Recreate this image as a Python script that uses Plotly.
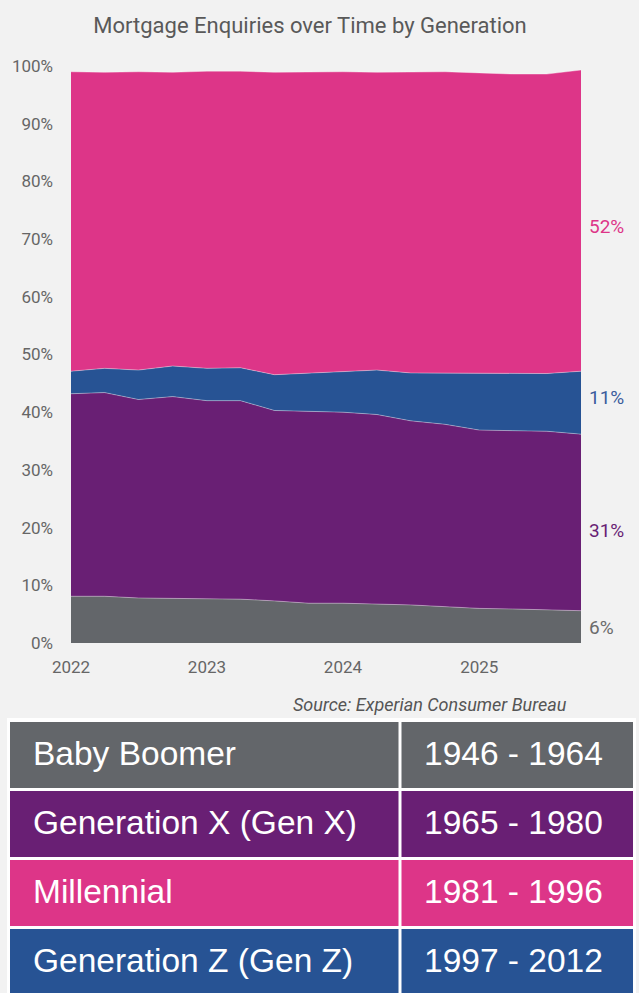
import plotly.graph_objects as go

# quarterly mortgage enquiry share by generation (% of enquiries)
quarters = ["2022-01-01", "2022-04-01", "2022-07-01", "2022-10-01",
            "2023-01-01", "2023-04-01", "2023-07-01", "2023-10-01",
            "2024-01-01", "2024-04-01", "2024-07-01", "2024-10-01",
            "2025-01-01", "2025-04-01", "2025-07-01", "2025-10-01"]

baby_boomer = [8.1, 8.1, 7.8, 7.7, 7.7, 7.6, 7.3, 6.9, 6.9, 6.8, 6.6, 6.3, 6.0, 5.9, 5.8, 5.6]
gen_x = [35.1, 35.3, 34.4, 35.0, 34.3, 34.4, 33.0, 33.3, 33.1, 32.8, 31.9, 31.6, 30.9, 30.9, 30.9, 30.6]
gen_z = [3.9, 4.2, 5.1, 5.3, 5.6, 5.7, 6.2, 6.6, 7.1, 7.7, 8.3, 8.9, 9.8, 10.0, 10.0, 10.9]
millennial = [51.9, 51.3, 51.7, 50.9, 51.5, 51.4, 52.4, 52.2, 51.9, 51.6, 52.2, 52.2, 52.1, 51.8, 51.9, 52.2]

end_labels = ["6%", "31%", "11%", "52%"]

# generation table
gen_names = ["Baby Boomer", "Generation X (Gen X)", "Millennial", "Generation Z (Gen Z)"]
gen_years = ["1946 - 1964", "1965 - 1980", "1981 - 1996", "1997 - 2012"]

GREY = "#63666a"
PURPLE = "#691f74"
PINK = "#dd3588"
BLUE = "#275394"
BG = "#f2f2f2"

W, H = 639, 993

def px_x(p):
    return p / W

def px_y(p):
    return 1 - p / H

fig = go.Figure()

series = [("Baby Boomer", baby_boomer, GREY),
          ("Generation X", gen_x, PURPLE),
          ("Generation Z", gen_z, BLUE),
          ("Millennial", millennial, PINK)]

for name, vals, col in series:
    fig.add_trace(go.Scatter(
        x=quarters, y=vals, name=name, mode="lines",
        stackgroup="one", fillcolor=col,
        line=dict(width=1, color="rgba(255,255,255,0.35)"),
        showlegend=False, hoverinfo="x+y+name"))

# right-hand labels next to the last quarter
label_cols = ["#6b6b6b", PURPLE, "#3a5c9c", PINK]
label_y = [627, 530, 397, 226]
for txt, col, yy in zip(end_labels, label_cols, label_y):
    fig.add_annotation(text=txt, xref="paper", yref="paper",
                       x=px_x(587), y=px_y(yy), xanchor="left", yanchor="middle",
                       showarrow=False, font=dict(size=19, color=col, family="Roboto"))

fig.add_annotation(text="<i>Source: Experian Consumer Bureau</i>", xref="paper", yref="paper",
                   x=px_x(569), y=px_y(704), xanchor="right", yanchor="middle",
                   showarrow=False, font=dict(size=18, color="#555555", family="Roboto"))

# white panel behind the table
fig.add_shape(type="rect", xref="paper", yref="paper",
              x0=px_x(7), x1=px_x(636), y0=0, y1=px_y(718),
              fillcolor="white", line_width=0, layer="below")

# table cells: two columns, four rows
row_fills = [GREY, PURPLE, PINK, BLUE]
col_edges = [(10, 398.5), (401.5, 633)]
row_top, row_h, row_gap = 722, 66, 3
for i, (nm, yrs, fill) in enumerate(zip(gen_names, gen_years, row_fills)):
    y0 = row_top + i * (row_h + row_gap)
    y1 = y0 + row_h
    for (cx0, cx1) in col_edges:
        fig.add_shape(type="rect", xref="paper", yref="paper",
                      x0=px_x(cx0), x1=px_x(cx1), y0=px_y(y1), y1=px_y(y0),
                      fillcolor=fill, line_width=0, layer="below")
    ymid = px_y((y0 + y1) / 2 - 2)
    fig.add_annotation(text=nm, xref="paper", yref="paper",
                       x=px_x(col_edges[0][0] + 21), y=ymid,
                       xanchor="left", yanchor="middle", showarrow=False,
                       font=dict(size=33.5, color="white", family="Liberation Sans"))
    fig.add_annotation(text=yrs, xref="paper", yref="paper",
                       x=px_x(sum(col_edges[1]) / 2 - 4), y=ymid,
                       xanchor="center", yanchor="middle", showarrow=False,
                       font=dict(size=33.5, color="white", family="Liberation Sans"))

fig.update_layout(
    width=W, height=H,
    template="none",
    paper_bgcolor=BG, plot_bgcolor=BG,
    margin=dict(l=0, r=0, t=0, b=0),
    title=dict(text="Mortgage Enquiries over Time by Generation",
               x=px_x(310), y=px_y(25), xanchor="center", yanchor="middle",
               font=dict(size=22, color="#595959", family="Roboto")),
    xaxis=dict(domain=[px_x(71), px_x(581)],
               range=["2022-01-01", "2025-10-01"],
               tickvals=["2022-01-01", "2023-01-01", "2024-01-01", "2025-01-01"],
               ticktext=["2022", "2023", "2024", "2025"],
               showgrid=False, zeroline=False, showline=False,
               ticks="", automargin=False, ticklabelstandoff=12,
               tickfont=dict(size=17, color="#666666", family="Roboto")),
    yaxis=dict(domain=[px_y(643), px_y(66)],
               range=[0, 100], dtick=10, ticksuffix="%",
               showgrid=True, gridcolor="#e3e3e3", gridwidth=1,
               zeroline=False, showline=False, ticks="", automargin=False,
               ticklabelstandoff=17,
               tickfont=dict(size=17, color="#666666", family="Roboto")),
)

fig.write_html("out.html", config={"displayModeBar": False},
               post_script="document.body.style.margin='0';")
